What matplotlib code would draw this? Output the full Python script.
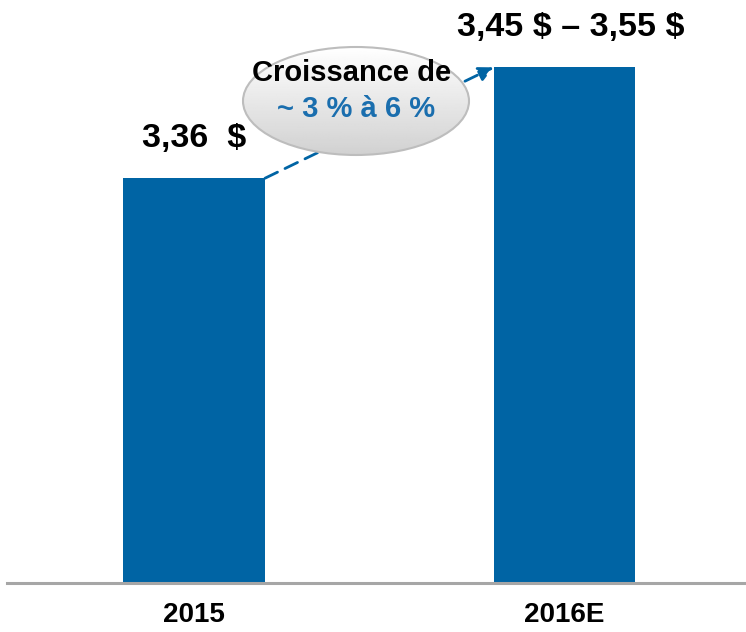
import matplotlib.pyplot as plt
import numpy as np
from matplotlib.patches import Ellipse

plt.rcParams['font.family'] = ['Liberation Sans', 'DejaVu Sans']
plt.rcParams['font.weight'] = 'bold'

categories = ['2015', '2016E']
values = [3.36, 3.50]          # 2016E drawn at the midpoint of the 3,45-3,55 range
value_labels = ['3,36  $', '3,45 $ \u2013 3,55 $']
growth_title = 'Croissance de'
growth_text = '~ 3 % \u00e0 6 %'

blue = '#0064A4'
text_blue = '#1A6EAE'

W, H = 746, 632
fig = plt.figure(figsize=(W / 100, H / 100), dpi=100)
ax = fig.add_axes([7 / W, 49 / H, 739 / W, 583 / H])

bar_w = 0.383
x = np.arange(len(categories))
ax.bar(x, values, width=bar_w, color=blue, zorder=2)
ax.set_xlim(-0.505, 1.49)
ax.set_ylim(2.849, 3.585)

label_dx = [0, 6]
for xi, v, lab, dx in zip(x, values, value_labels, label_dx):
    ax.annotate(lab, (xi, v), xytext=(dx, 40), textcoords='offset pixels',
                ha='center', va='center', fontsize=24.5, fontweight='bold',
                parse_math=False)

# dashed growth arrow between bar tops
ax.annotate('', xy=(x[1] - bar_w / 2, values[1]), xytext=(x[0] + bar_w / 2, values[0]),
            arrowprops=dict(arrowstyle='-|>', color=blue, lw=2, linestyle=(0, (5, 3)),
                            mutation_scale=22, shrinkA=0, shrinkB=0))

ax.set_xticks(x, categories)
ax.tick_params(axis='x', length=0, pad=14, labelsize=20)
ax.set_yticks([])
for s in ['top', 'left', 'right']:
    ax.spines[s].set_visible(False)
ax.spines['bottom'].set_color('#A6A6A6')
ax.spines['bottom'].set_linewidth(2.2)

# callout bubble in pixel space
ov = fig.add_axes([0, 0, 1, 1])
ov.set_xlim(0, W)
ov.set_ylim(H, 0)
ov.axis('off')
cx, cy, ew, eh = 356, 101, 226, 108
ell = Ellipse((cx, cy), ew, eh, facecolor='none', edgecolor='#BDBDBD', lw=1.5, zorder=3)
ov.add_patch(ell)
grad = np.linspace(1.0, 0.82, 100).reshape(-1, 1)
img = ov.imshow(grad, cmap='gray', vmin=0, vmax=1, aspect='auto',
                extent=(cx - ew / 2, cx + ew / 2, cy + eh / 2, cy - eh / 2), zorder=2)
img.set_clip_path(ell)
ov.set_xlim(0, W)
ov.set_ylim(H, 0)
ov.text(cx - 4, 73, growth_title, ha='center', va='center', fontsize=21, fontweight='bold', zorder=4)
ov.text(cx, 109, growth_text, ha='center', va='center', fontsize=21, fontweight='bold',
        color=text_blue, zorder=4)

fig.savefig('out.png', dpi=100)
